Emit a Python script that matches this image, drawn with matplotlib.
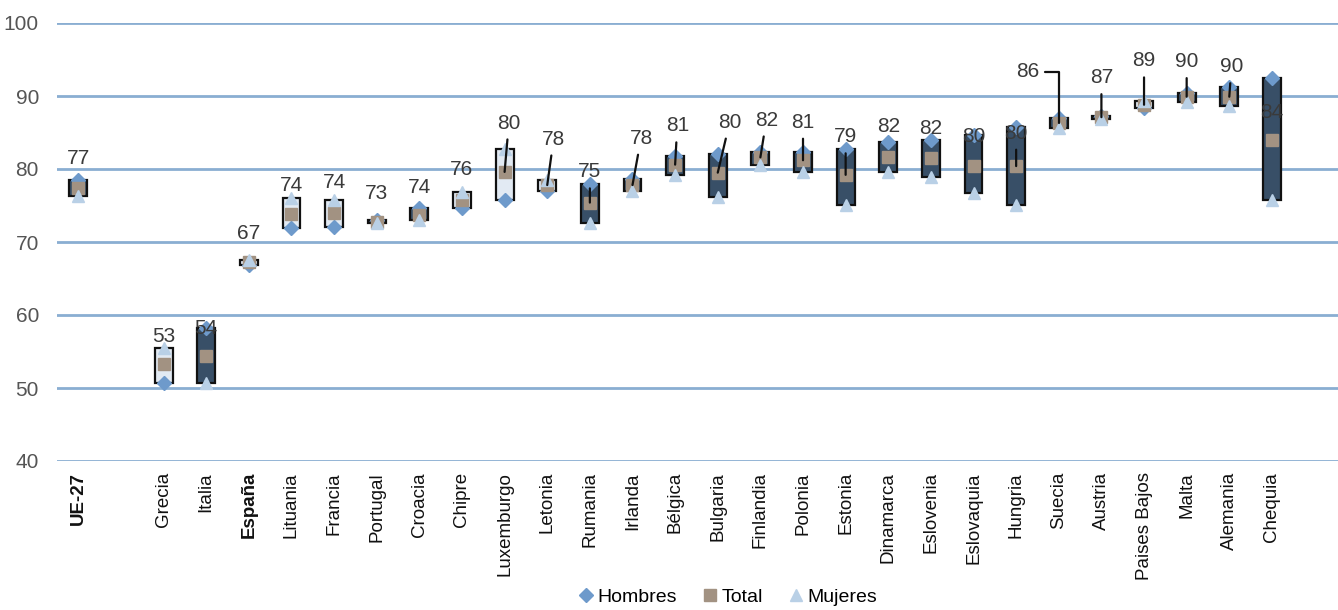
import matplotlib
matplotlib.use("Agg")
import matplotlib.pyplot as plt
from matplotlib.lines import Line2D
import numpy as np

categories = ["UE-27", "", "Grecia", "Italia", "España", "Lituania", "Francia", "Portugal",
              "Croacia", "Chipre", "Luxemburgo", "Letonia", "Rumania", "Irlanda", "Bélgica",
              "Bulgaria", "Finlandia", "Polonia", "Estonia", "Dinamarca", "Eslovenia",
              "Eslovaquia", "Hungria", "Suecia", "Austria", "Paises Bajos", "Malta",
              "Alemania", "Chequia"]
hombres = [78.5, np.nan, 50.7, 58.2, 66.9, 71.9, 72.1, 73.0, 74.6, 74.7, 75.8, 77.0, 77.9,
           78.6, 81.8, 82.1, 82.3, 82.3, 82.7, 83.7, 84.0, 84.7, 85.8, 87.0, 87.3, 88.3,
           90.4, 91.3, 92.5]
total = [77.4, np.nan, 53.3, 54.4, 67.2, 73.8, 74.0, 72.8, 73.7, 75.8, 79.6, 77.8, 75.4,
         77.8, 80.6, 79.5, 81.6, 81.2, 79.2, 81.6, 81.5, 80.4, 80.4, 86.3, 87.1, 88.8,
         89.9, 89.9, 84.0]
mujeres = [76.3, np.nan, 55.5, 50.7, 67.5, 76.0, 75.8, 72.6, 73.0, 76.8, 82.7, 78.5, 72.6,
           77.0, 79.2, 76.2, 80.5, 79.6, 75.1, 79.6, 78.9, 76.7, 75.1, 85.6, 86.9, 89.3,
           89.2, 88.6, 75.8]
bold_categories = ["UE-27", "España"]

# layout of the data labels (offsets in axis units), leader flag
label_dx = [0, 0, 0, 0, 0, 0, 0, 0, 0, 0, 0.1, 0.15, 0, 0.2, 0.05, 0.28, 0.14, 0, 0, 0,
            0, 0, 0, -0.72, 0, 0, 0, 0.05, 0]
label_dy = [4.1, 0, 3.7, 3.8, 4.0, 4.0, 4.1, 3.9, 3.8, 4.1, 6.7, 6.3, 4.2, 6.4, 5.3, 6.9,
            5.1, 5.2, 5.2, 4.2, 4.1, 4.0, 4.5, 7.0, 5.4, 6.0, 4.8, 4.1, 3.8]
leader = [0, 0, 0, 0, 0, 0, 0, 0, 0, 0, 1, 1, 1, 1, 1, 1, 1, 1, 1, 0, 0, 0, 1, 2, 1, 1, 1,
          1, 0]

NARROW = ["Liberation Sans Narrow", "Liberation Sans", "DejaVu Sans"]
REG = ["Liberation Sans", "DejaVu Sans"]

C_H = "#6e9acb"
C_T = "#a29282"
C_M = "#b9d0e6"
C_DARK = "#384f67"
C_LIGHT = "#e2eaf3"
GRID = "#8aaed2"

fig = plt.figure(figsize=(13.38, 6.10), dpi=100)
ax = fig.add_axes([57 / 1338, 1 - 461 / 610, 1 - 57 / 1338, (461 - 23) / 610])

x = np.arange(len(categories))
H = np.array(hombres)
T = np.array(total)
M = np.array(mujeres)

for i in range(len(categories)):
    if np.isnan(H[i]):
        continue
    lo = min(H[i], M[i])
    hi = max(H[i], M[i])
    fc = C_DARK if H[i] > M[i] else C_LIGHT
    ax.bar(x[i], hi - lo, bottom=lo, width=0.42, color=fc, edgecolor="#111111",
           linewidth=1.6, zorder=3)

ax.plot(x, H, linestyle="none", marker="D", ms=7.5, color=C_H, mec=C_H, zorder=4)
ax.plot(x, T, linestyle="none", marker="s", ms=8.5, color=C_T, mec=C_T, zorder=5)
ax.plot(x, M, linestyle="none", marker="^", ms=8.5, color=C_M, mec=C_M, zorder=6)

for i in range(len(categories)):
    if np.isnan(T[i]):
        continue
    txt = f"{T[i]:.0f}"
    tx = x[i] + label_dx[i]
    ty = T[i] + label_dy[i]
    if leader[i] == 1:
        ax.annotate(txt, xy=(x[i], T[i]), xytext=(tx, ty), ha="center", va="center",
                    fontsize=15, family=REG, color="#3a3a3a", zorder=8,
                    arrowprops=dict(arrowstyle="-", color="#111111", lw=1.6,
                                    shrinkA=3, shrinkB=0))
    elif leader[i] == 2:
        ax.annotate(txt, xy=(x[i], T[i]), xytext=(tx, ty), ha="center", va="center",
                    fontsize=15, family=REG, color="#3a3a3a", zorder=8,
                    arrowprops=dict(arrowstyle="-", color="#111111", lw=1.6,
                                    shrinkA=2, shrinkB=0,
                                    connectionstyle="angle,angleA=0,angleB=90,rad=0"))
    else:
        ax.text(tx, ty, txt, ha="center", va="center", fontsize=15, family=REG,
                color="#3a3a3a", zorder=8)

ax.set_ylim(40, 100)
ax.set_xlim(-0.5, 29.55)
ax.set_yticks([40, 50, 60, 70, 80, 90, 100])
ax.yaxis.grid(True, color=GRID, linewidth=2)
ax.set_axisbelow(True)
for s in ax.spines.values():
    s.set_visible(False)
ax.tick_params(axis="y", length=0, pad=13, labelsize=15, labelcolor="#555555")
for lab in ax.get_yticklabels():
    lab.set_family(NARROW)
ax.set_xticks(x)
ax.set_xticklabels(categories, rotation=90, fontsize=13.5, family=NARROW, color="#111111")
for lab in ax.get_xticklabels():
    if lab.get_text() in bold_categories:
        lab.set_fontweight("bold")
ax.tick_params(axis="x", length=0, pad=8)

handles = [Line2D([], [], linestyle="none", marker="D", ms=7, color=C_H),
           Line2D([], [], linestyle="none", marker="s", ms=8, color=C_T),
           Line2D([], [], linestyle="none", marker="^", ms=8.5, color=C_M)]
fig.legend(handles, ["Hombres", "Total", "Mujeres"], loc="center",
           bbox_to_anchor=(0.543, 0.021), ncol=3, frameon=False,
           prop={"family": NARROW, "size": 14}, handletextpad=0.1, columnspacing=1.2,
           handlelength=1.0)

fig.savefig("out.png", dpi=100)
